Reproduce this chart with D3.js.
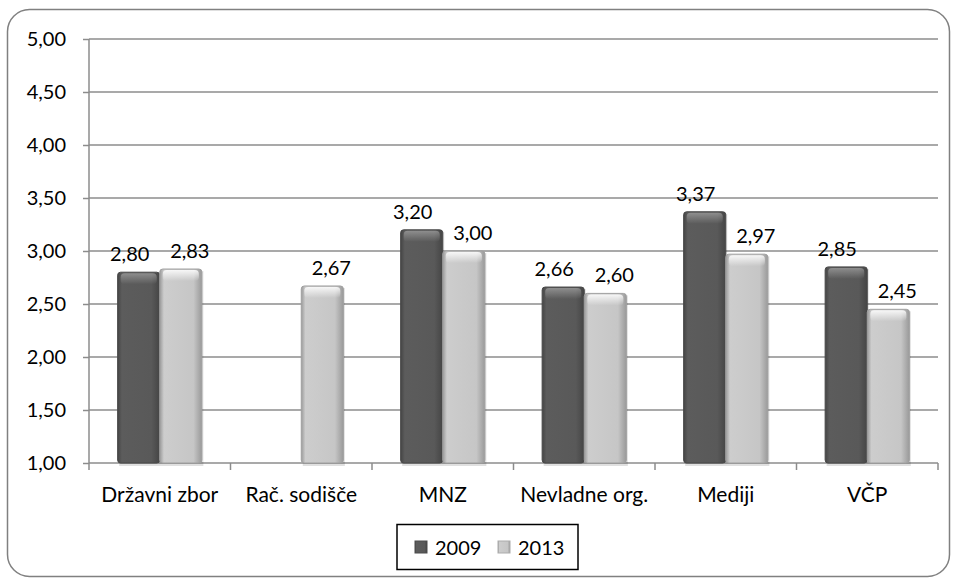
<!DOCTYPE html>
<html><head><meta charset="utf-8">
<script src="https://cdn.jsdelivr.net/npm/d3@7"></script>
<style>body{margin:0;background:#fff}svg{display:block}</style>
</head><body>
<svg id="c" width="953" height="580"></svg>
<script>
const categories = ["Državni zbor", "Rač. sodišče", "MNZ", "Nevladne org.", "Mediji", "VČP"];
const seriesNames = ["2009", "2013"];
const values2009 = [2.80, null, 3.20, 2.66, 3.37, 2.85];
const values2013 = [2.83, 2.67, 3.00, 2.60, 2.97, 2.45];
const yTicks = [1.00, 1.50, 2.00, 2.50, 3.00, 3.50, 4.00, 4.50, 5.00];
const colors = ["#595959", "#c6c6c6"];

const svg = d3.select("#c");
const font = "Lato, 'Open Sans', sans-serif";
const fmt = v => d3.format(".2f")(v).replace(".", ",");

// frame
svg.append("rect").attr("x", 7.5).attr("y", 9.5).attr("width", 942).attr("height", 567)
  .attr("rx", 22).attr("fill", "#fff").attr("stroke", "#808080").attr("stroke-width", 1.5);

const L = 89, R = 938, T = 39, B = 463;
const x = d3.scaleBand().domain(categories).range([L, R]).paddingInner(0).paddingOuter(0);
const y = d3.scaleLinear().domain([1, 5]).range([B, T]);

// defs gradients
const defs = svg.append("defs");
function grad(id, c) {
  const g = defs.append("linearGradient").attr("id", id).attr("x1", 0).attr("x2", 1).attr("y1", 0).attr("y2", 0);
  const base = d3.color(c);
  g.append("stop").attr("offset", "0%").attr("stop-color", base.darker(0.7));
  g.append("stop").attr("offset", "10%").attr("stop-color", base.brighter(0.1));
  g.append("stop").attr("offset", "80%").attr("stop-color", base);
  g.append("stop").attr("offset", "100%").attr("stop-color", base.darker(0.7));
  const t = defs.append("linearGradient").attr("id", id + "t").attr("x1", 0).attr("x2", 0).attr("y1", 0).attr("y2", 1);
  t.append("stop").attr("offset", "0%").attr("stop-color", "#fff").attr("stop-opacity", 0.9);
  t.append("stop").attr("offset", "100%").attr("stop-color", "#fff").attr("stop-opacity", 0);
}
grad("g0", colors[0]); grad("g1", colors[1]);

// gridlines
svg.append("g").selectAll("line").data(yTicks).join("line")
  .attr("x1", L).attr("x2", R).attr("y1", d => y(d)).attr("y2", d => y(d))
  .attr("stroke", "#8c8c8c").attr("stroke-width", 1.5);

// y axis
const yAxis = d3.axisLeft(y).tickValues(yTicks).tickFormat(fmt).tickSize(6).tickPadding(17);
const gy = svg.append("g").attr("transform", `translate(${L},0)`).call(yAxis);
gy.select(".domain").attr("stroke", "#8c8c8c").attr("stroke-width", 1.5).attr("d", `M0,${T}V${B}`);
gy.selectAll(".tick line").attr("stroke", "#8c8c8c").attr("stroke-width", 1.5);
gy.selectAll("text").attr("font-family", font).attr("font-size", 20).attr("fill", "#000");

// x axis
const xAxis = d3.axisBottom(x).tickSize(0).tickPadding(24);
const gx = svg.append("g").attr("transform", `translate(0,${B})`).call(xAxis);
gx.select(".domain").remove();
gx.selectAll("text").attr("font-family", font).attr("font-size", 21).attr("fill", "#000");
const bounds = categories.map(c => x(c)).concat([R]);
svg.append("g").selectAll("line").data(bounds).join("line")
  .attr("x1", d => d).attr("x2", d => d).attr("y1", B).attr("y2", B + 7)
  .attr("stroke", "#8c8c8c").attr("stroke-width", 1.5);

// bars
const inner = d3.scaleBand().domain(seriesNames).range([0, x.bandwidth()]).paddingOuter(0.68).paddingInner(0);
const series = [values2009, values2013];
series.forEach((vals, si) => {
  const data = categories.map((c, i) => ({c, v: vals[i]})).filter(d => d.v != null);
  const g = svg.append("g");
  const bw = inner.bandwidth();
  const bx = d => x(d.c) + inner(seriesNames[si]);
  g.selectAll("rect.shadow").data(data).join("rect")
    .attr("x", d => bx(d) + 1.5).attr("y", d => y(d.v) + 2)
    .attr("width", bw).attr("height", d => B - y(d.v) + 1).attr("fill", "#000").attr("opacity", 0.12);
  g.selectAll("rect.bar").data(data).join("rect")
    .attr("x", bx).attr("y", d => y(d.v))
    .attr("width", bw).attr("height", d => B - y(d.v))
    .attr("rx", 3)
    .attr("fill", `url(#g${si})`).attr("stroke", d3.color(colors[si]).darker(0.6)).attr("stroke-width", 1);
  g.selectAll("rect.top").data(data).join("rect")
    .attr("x", d => bx(d) + 3).attr("y", d => y(d.v) + 1)
    .attr("width", bw - 6).attr("height", 11).attr("rx", 4)
    .attr("fill", `url(#g${si}t)`).attr("opacity", si === 0 ? 0.35 : 0.95);
  g.selectAll("text").data(data).join("text")
    .attr("x", d => bx(d) + bw / 2 + (si === 0 ? -9 : 9)).attr("y", d => y(d.v) - 11)
    .attr("text-anchor", "middle").attr("font-family", font).attr("font-size", 20).attr("fill", "#000")
    .text(d => fmt(d.v));
});

// legend
const lg = svg.append("g");
lg.append("rect").attr("x", 397).attr("y", 524.5).attr("width", 181).attr("height", 45)
  .attr("fill", "#fff").attr("stroke", "#000").attr("stroke-width", 1.5);
seriesNames.forEach((s, i) => {
  const lx = 415 + i * 83;
  lg.append("rect").attr("x", lx).attr("y", 541).attr("width", 12).attr("height", 12)
    .attr("fill", `url(#g${i})`).attr("stroke", d3.color(colors[i]).darker(0.4));
  lg.append("text").attr("x", lx + 20).attr("y", 555).attr("font-family", font).attr("font-size", 20).text(s);
});
</script>
</body></html>
